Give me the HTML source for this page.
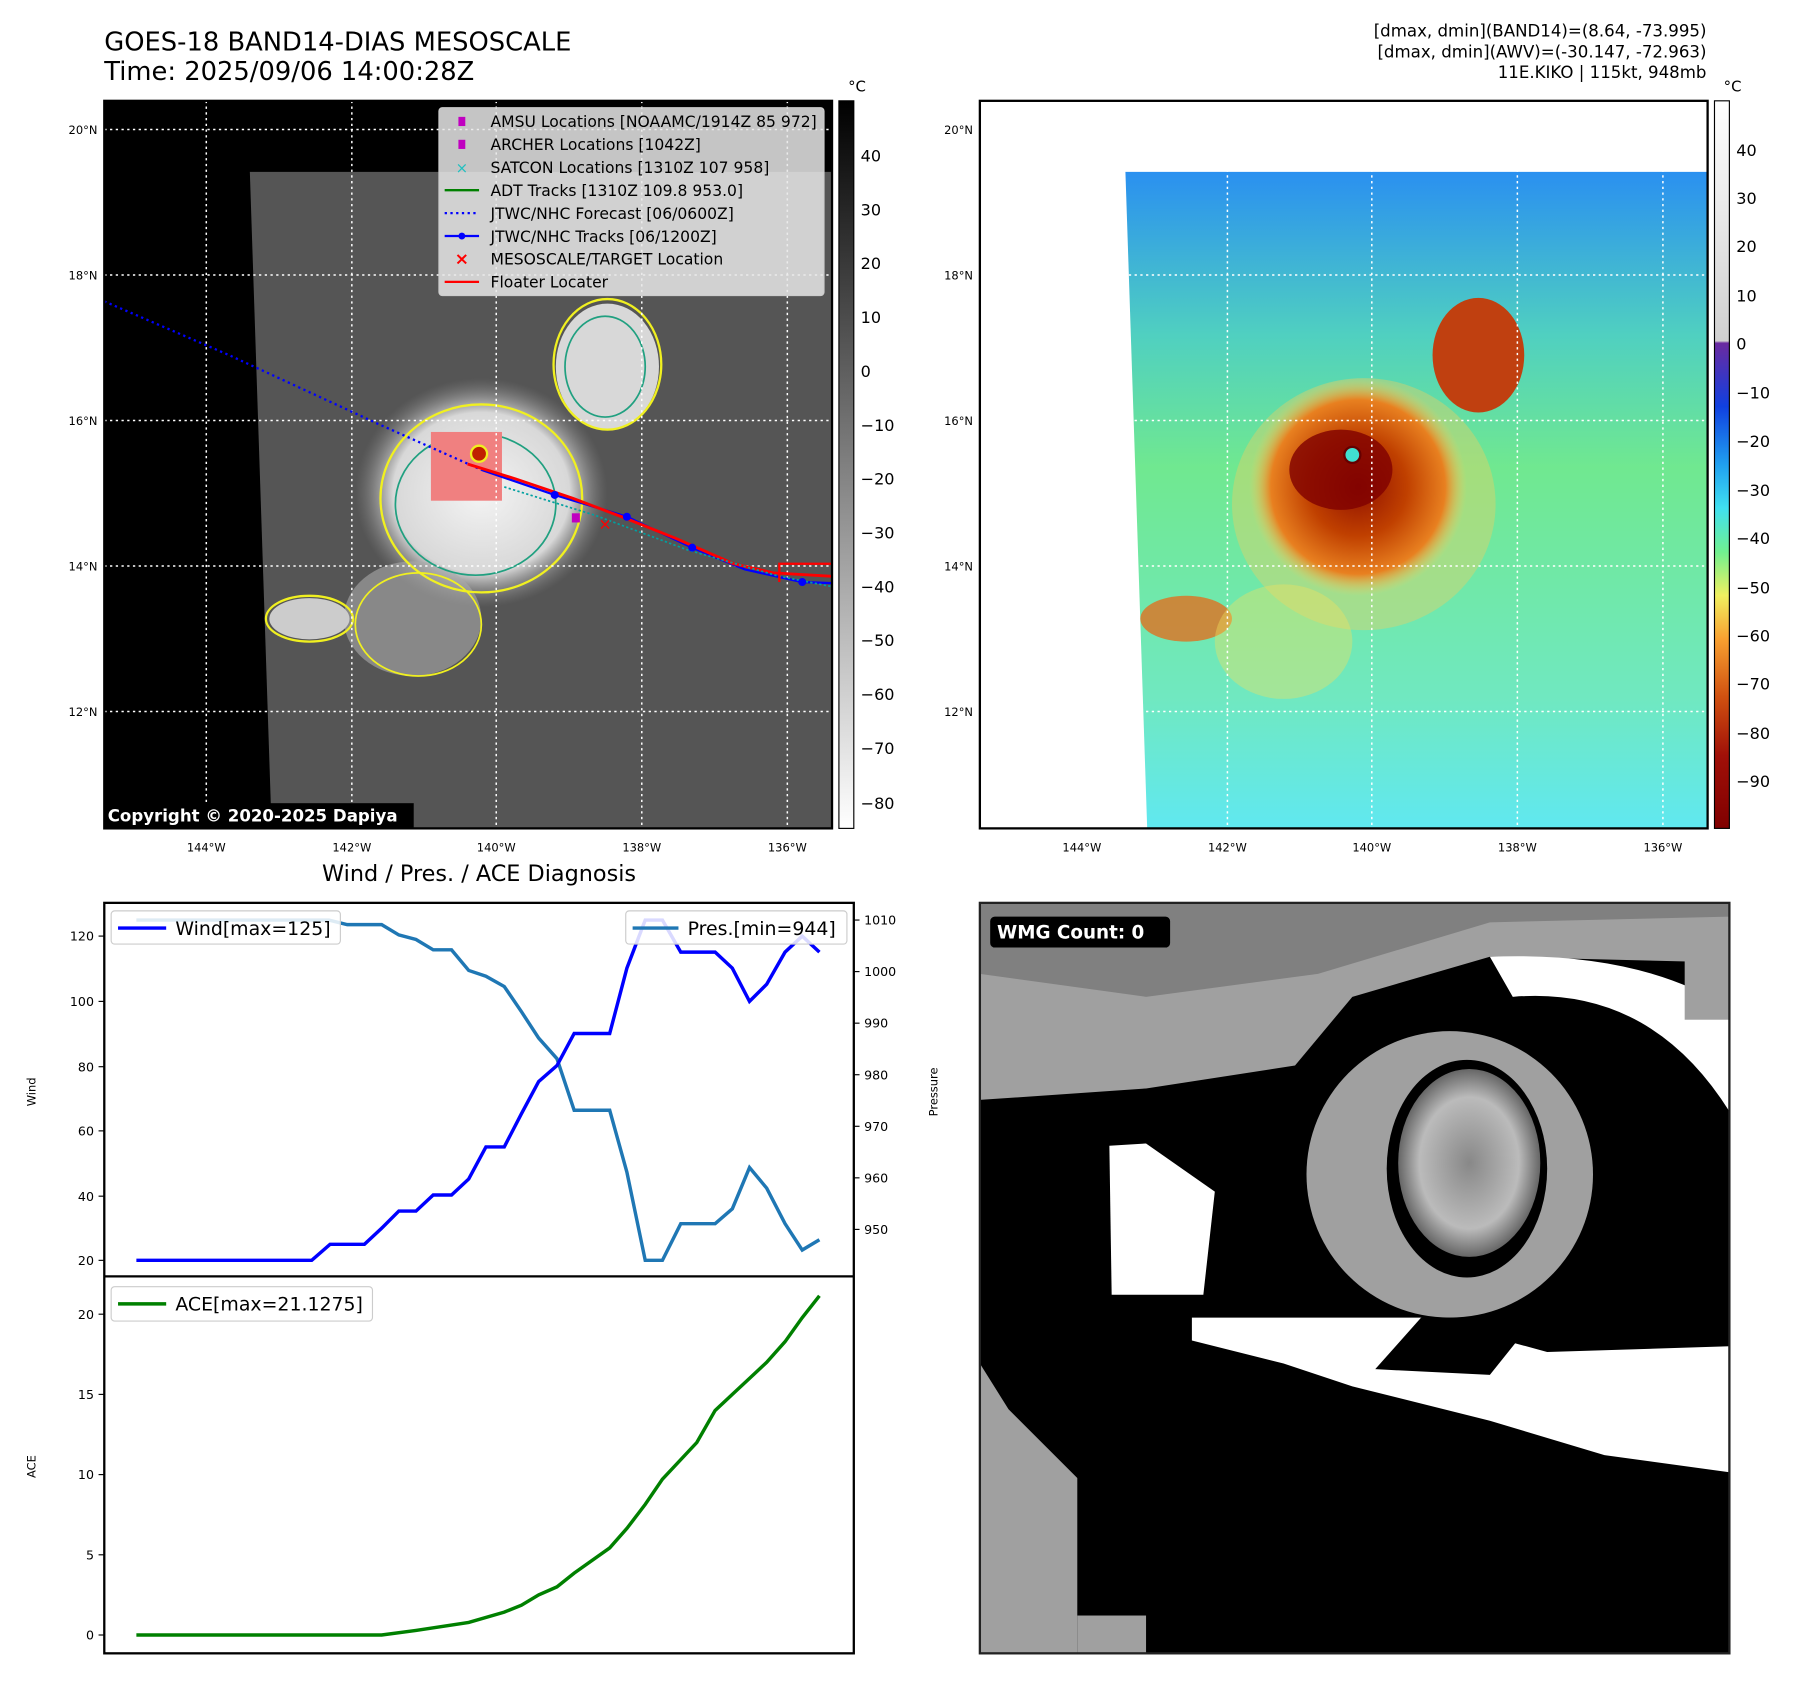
<!DOCTYPE html>
<html><head><meta charset="utf-8"><style>html,body{margin:0;padding:0;background:#fff}svg{display:block}text{font-family:"DejaVu Sans","Liberation Sans",sans-serif}</style></head><body>
<svg width="1797" height="1690" viewBox="0 0 1568 1475" preserveAspectRatio="none" xmlns="http://www.w3.org/2000/svg">
<defs>
<linearGradient id="gcb" x1="0" y1="0" x2="0" y2="1"><stop offset="0" stop-color="#000"/><stop offset="1" stop-color="#fff"/></linearGradient>
<linearGradient id="ccb" x1="0" y1="0" x2="0" y2="1">
<stop offset="0" stop-color="#fff"/><stop offset="0.33" stop-color="#d0d0d0"/><stop offset="0.333" stop-color="#6a2aa0"/>
<stop offset="0.42" stop-color="#1040e0"/><stop offset="0.5" stop-color="#20a0f0"/><stop offset="0.56" stop-color="#40e0f0"/>
<stop offset="0.62" stop-color="#70f090"/><stop offset="0.68" stop-color="#f0f060"/><stop offset="0.74" stop-color="#f8a030"/>
<stop offset="0.82" stop-color="#d05010"/><stop offset="0.9" stop-color="#a01008"/><stop offset="1" stop-color="#800000"/></linearGradient>
<linearGradient id="swR" x1="0" y1="0" x2="0" y2="1"><stop offset="0" stop-color="#2a90f0"/><stop offset="0.25" stop-color="#50d0c0"/><stop offset="0.45" stop-color="#70e890"/><stop offset="0.8" stop-color="#70e8c0"/><stop offset="1" stop-color="#60e8f0"/></linearGradient>
<radialGradient id="stR"><stop offset="0" stop-color="#901000"/><stop offset="0.45" stop-color="#c04000"/><stop offset="0.8" stop-color="#e88020"/><stop offset="1" stop-color="#f0d060" stop-opacity="0"/></radialGradient>
<radialGradient id="stL"><stop offset="0" stop-color="#f4f4f4"/><stop offset="0.7" stop-color="#d8d8d8"/><stop offset="1" stop-color="#888" stop-opacity="0"/></radialGradient>
<radialGradient id="eyeW"><stop offset="0" stop-color="#888"/><stop offset="0.7" stop-color="#bbb"/><stop offset="1" stop-color="#666"/></radialGradient>
</defs>
<text x="91" y="44" font-size="22.5">GOES-18 BAND14-DIAS MESOSCALE</text>
<text x="91" y="70" font-size="22.5">Time: 2025/09/06 14:00:28Z</text>
<g font-size="14.5" text-anchor="end"><text x="1489" y="32">[dmax, dmin](BAND14)=(8.64, -73.995)</text><text x="1489" y="50">[dmax, dmin](AWV)=(-30.147, -72.963)</text><text x="1489" y="68">11E.KIKO | 115kt, 948mb</text></g>

<rect x="91" y="88" width="635" height="635" fill="#000"/>
<polygon points="218,150 726,150 726,723 237,723" fill="#555"/>
<ellipse cx="420" cy="430" rx="110" ry="100" fill="url(#stL)"/>
<ellipse cx="530" cy="320" rx="45" ry="55" fill="#d8d8d8"/>
<ellipse cx="360" cy="540" rx="60" ry="50" fill="#aaa" opacity="0.6"/>
<ellipse cx="270" cy="540" rx="35" ry="18" fill="#ccc"/>
<ellipse cx="420" cy="435" rx="88" ry="82" fill="none" stroke="#f0f020" stroke-width="2"/>
<ellipse cx="415" cy="440" rx="70" ry="62" fill="none" stroke="#20a080" stroke-width="1.5"/>
<ellipse cx="530" cy="318" rx="47" ry="57" fill="none" stroke="#f0f020" stroke-width="2"/>
<ellipse cx="528" cy="320" rx="35" ry="44" fill="none" stroke="#20a080" stroke-width="1.5"/>
<ellipse cx="270" cy="540" rx="38" ry="20" fill="none" stroke="#f0f020" stroke-width="2"/>
<ellipse cx="365" cy="545" rx="55" ry="45" fill="none" stroke="#f0f020" stroke-width="1.5"/>
<rect x="376" y="377" width="62" height="60" fill="#f08080"/>
<circle cx="418" cy="396" r="7" fill="#c02000" stroke="#f0f020" stroke-width="2"/>
<g stroke="#fff" stroke-dasharray="2,3" stroke-width="1.3">
<line x1="180" y1="88" x2="180" y2="723"/><line x1="307" y1="88" x2="307" y2="723"/><line x1="433" y1="88" x2="433" y2="723"/><line x1="560" y1="88" x2="560" y2="723"/><line x1="687" y1="88" x2="687" y2="723"/>
<line x1="91" y1="113" x2="726" y2="113"/><line x1="91" y1="240" x2="726" y2="240"/><line x1="91" y1="367" x2="726" y2="367"/><line x1="91" y1="494" x2="726" y2="494"/><line x1="91" y1="621" x2="726" y2="621"/></g>
<polyline points="91,263 200,310 330,370 420,410" fill="none" stroke="#0000ff" stroke-width="2" stroke-dasharray="2,3"/>
<polyline points="420,410 484,432 547,451 604,478 650,497 700,508 726,509" fill="none" stroke="#0000ff" stroke-width="2"/>
<polyline points="408,405 450,418 500,435 545,452 590,470 640,492 675,500 726,503" fill="none" stroke="#ff0000" stroke-width="2.5"/>
<polyline points="440,425 520,450 600,480 680,503 726,512" fill="none" stroke="#00a0a0" stroke-width="1.5" stroke-dasharray="2,2"/>
<g fill="#0000ff"><circle cx="484" cy="432" r="3.5"/><circle cx="547" cy="451" r="3.5"/><circle cx="604" cy="478" r="3.5"/><circle cx="700" cy="508" r="3.5"/></g>
<rect x="499" y="448" width="7" height="8" fill="#c000c0"/>
<text x="528" y="462" fill="#ff0000" font-size="14" text-anchor="middle">×</text>
<polyline points="680,508 680,492 726,492" fill="none" stroke="#ff0000" stroke-width="2"/>
<rect x="91" y="88" width="635" height="635" fill="none" stroke="#000" stroke-width="2"/>
<rect x="383" y="94" width="336" height="164" rx="3" fill="#e8e8e8" fill-opacity="0.85" stroke="#ccc"/>
<g font-size="13.6">
<rect x="400" y="102" width="6" height="8" fill="#c000c0"/><text x="428" y="111">AMSU Locations [NOAAMC/1914Z 85 972]</text>
<rect x="400" y="122" width="6" height="8" fill="#c000c0"/><text x="428" y="131">ARCHER Locations [1042Z]</text>
<text x="403" y="151" fill="#20c0c0" font-size="13" text-anchor="middle">×</text><text x="428" y="151">SATCON Locations [1310Z 107 958]</text>
<line x1="388" y1="166" x2="418" y2="166" stroke="#008000" stroke-width="2"/><text x="428" y="171">ADT Tracks [1310Z 109.8 953.0]</text>
<line x1="388" y1="186" x2="418" y2="186" stroke="#0000ff" stroke-width="2" stroke-dasharray="2,3"/><text x="428" y="191">JTWC/NHC Forecast [06/0600Z]</text>
<line x1="388" y1="206" x2="418" y2="206" stroke="#0000ff" stroke-width="2"/><circle cx="403" cy="206" r="3" fill="#0000ff"/><text x="428" y="211">JTWC/NHC Tracks [06/1200Z]</text>
<text x="403" y="231" fill="#ff0000" font-size="15" font-weight="bold" text-anchor="middle">×</text><text x="428" y="231">MESOSCALE/TARGET Location</text>
<line x1="388" y1="246" x2="418" y2="246" stroke="#ff0000" stroke-width="2"/><text x="428" y="251">Floater Locater</text></g>
<rect x="91" y="701" width="270" height="22" fill="#000"/>
<text x="94" y="717" fill="#fff" font-size="14.5" font-weight="bold">Copyright © 2020-2025 Dapiya</text>
<g font-size="10" text-anchor="end"><text x="85" y="117">20°N</text><text x="85" y="244">18°N</text><text x="85" y="371">16°N</text><text x="85" y="498">14°N</text><text x="85" y="625">12°N</text>
<text x="849" y="117">20°N</text><text x="849" y="244">18°N</text><text x="849" y="371">16°N</text><text x="849" y="498">14°N</text><text x="849" y="625">12°N</text></g>
<g font-size="10" text-anchor="middle"><text x="180" y="743">144°W</text><text x="307" y="743">142°W</text><text x="433" y="743">140°W</text><text x="560" y="743">138°W</text><text x="687" y="743">136°W</text>
<text x="944" y="743">144°W</text><text x="1071" y="743">142°W</text><text x="1197" y="743">140°W</text><text x="1324" y="743">138°W</text><text x="1451" y="743">136°W</text></g>
<rect x="732" y="88" width="13" height="635" fill="url(#gcb)" stroke="#000"/>
<text x="740" y="80" font-size="13">°C</text>
<g font-size="14"><text x="751" y="141">40</text><text x="751" y="188">30</text><text x="751" y="235">20</text><text x="751" y="282">10</text><text x="751" y="329">0</text><text x="751" y="376">−10</text><text x="751" y="423">−20</text><text x="751" y="470">−30</text><text x="751" y="517">−40</text><text x="751" y="564">−50</text><text x="751" y="611">−60</text><text x="751" y="658">−70</text><text x="751" y="706">−80</text></g>

<polygon points="982,150 1490,150 1490,723 1001,723" fill="url(#swR)"/>
<ellipse cx="1190" cy="440" rx="115" ry="110" fill="#f0d060" opacity="0.4"/>
<circle cx="1185" cy="425" r="95" fill="url(#stR)"/>
<ellipse cx="1170" cy="410" rx="45" ry="35" fill="#800000" opacity="0.8"/>
<circle cx="1180" cy="397" r="7" fill="#40e0d0" stroke="#600" stroke-width="2"/>
<ellipse cx="1290" cy="310" rx="40" ry="50" fill="#c04010"/>
<ellipse cx="1035" cy="540" rx="40" ry="20" fill="#e07020" opacity="0.8"/>
<ellipse cx="1120" cy="560" rx="60" ry="50" fill="#f0e060" opacity="0.4"/>
<g stroke="#fff" stroke-dasharray="2,3" stroke-width="1.3">
<line x1="944" y1="88" x2="944" y2="723"/><line x1="1071" y1="88" x2="1071" y2="723"/><line x1="1197" y1="88" x2="1197" y2="723"/><line x1="1324" y1="88" x2="1324" y2="723"/><line x1="1451" y1="88" x2="1451" y2="723"/>
<line x1="855" y1="113" x2="1490" y2="113"/><line x1="855" y1="240" x2="1490" y2="240"/><line x1="855" y1="367" x2="1490" y2="367"/><line x1="855" y1="494" x2="1490" y2="494"/><line x1="855" y1="621" x2="1490" y2="621"/></g>
<rect x="855" y="88" width="635" height="635" fill="none" stroke="#000" stroke-width="2"/>
<rect x="1496" y="88" width="13" height="635" fill="url(#ccb)" stroke="#000"/>
<text x="1504" y="80" font-size="13">°C</text>
<g font-size="14"><text x="1515" y="136">40</text><text x="1515" y="178">30</text><text x="1515" y="220">20</text><text x="1515" y="263">10</text><text x="1515" y="305">0</text><text x="1515" y="348">−10</text><text x="1515" y="390">−20</text><text x="1515" y="433">−30</text><text x="1515" y="475">−40</text><text x="1515" y="518">−50</text><text x="1515" y="560">−60</text><text x="1515" y="602">−70</text><text x="1515" y="645">−80</text><text x="1515" y="687">−90</text></g>

<text x="418" y="769" font-size="19.5" text-anchor="middle">Wind / Pres. / ACE Diagnosis</text>
<rect x="91" y="788" width="654" height="655" fill="none" stroke="#000" stroke-width="2"/>
<line x1="91" y1="1114" x2="745" y2="1114" stroke="#000" stroke-width="2"/>
<polyline fill="none" stroke="#1f77b4" stroke-width="3" points="119,803 287,803 303,807 333,807 348,816 363,820 378,829 394,829 409,847 424,852 440,861 455,883 470,906 486,924 501,969 532,969 547,1023 563,1100 578,1100 594,1068 624,1068 639,1055 654,1019 669,1037 685,1068 700,1091 715,1082"/>
<polyline fill="none" stroke="#0000ff" stroke-width="3" points="119,1100 272,1100 288,1086 318,1086 333,1072 348,1057 363,1057 378,1043 394,1043 409,1029 424,1001 440,1001 455,972 470,944 486,930 501,902 532,902 547,845 563,803 578,803 594,831 624,831 639,845 654,874 669,859 685,831 700,817 715,831"/>
<polyline fill="none" stroke="#008000" stroke-width="3" points="119,1427 333,1427 363,1423 409,1416 440,1407 455,1401 470,1392 486,1385 501,1373 532,1351 547,1334 563,1313 578,1291 608,1259 624,1231 639,1217 654,1203 669,1189 685,1171 700,1150 715,1131"/>
<rect x="97" y="795" width="200" height="29" rx="3" fill="#fff" fill-opacity="0.85" stroke="#ccc"/>
<line x1="103" y1="810" x2="145" y2="810" stroke="#0000ff" stroke-width="3"/><text x="153" y="816" font-size="16.5">Wind[max=125]</text>
<rect x="546" y="795" width="193" height="29" rx="3" fill="#fff" fill-opacity="0.85" stroke="#ccc"/>
<line x1="552" y1="810" x2="592" y2="810" stroke="#1f77b4" stroke-width="3"/><text x="600" y="816" font-size="16.5">Pres.[min=944]</text>
<rect x="97" y="1123" width="228" height="30" rx="3" fill="#fff" fill-opacity="0.85" stroke="#ccc"/>
<line x1="103" y1="1138" x2="145" y2="1138" stroke="#008000" stroke-width="3"/><text x="153" y="1144" font-size="16.5">ACE[max=21.1275]</text>
<g font-size="11" text-anchor="end"><text x="82" y="821">120</text><text x="82" y="878">100</text><text x="82" y="935">80</text><text x="82" y="991">60</text><text x="82" y="1048">40</text><text x="82" y="1104">20</text>
<text x="82" y="1151">20</text><text x="82" y="1221">15</text><text x="82" y="1291">10</text><text x="82" y="1361">5</text><text x="82" y="1431">0</text></g>
<g stroke="#000"><line x1="86" y1="817" x2="91" y2="817"/><line x1="86" y1="874" x2="91" y2="874"/><line x1="86" y1="931" x2="91" y2="931"/><line x1="86" y1="987" x2="91" y2="987"/><line x1="86" y1="1044" x2="91" y2="1044"/><line x1="86" y1="1100" x2="91" y2="1100"/>
<line x1="86" y1="1147" x2="91" y2="1147"/><line x1="86" y1="1217" x2="91" y2="1217"/><line x1="86" y1="1287" x2="91" y2="1287"/><line x1="86" y1="1357" x2="91" y2="1357"/><line x1="86" y1="1427" x2="91" y2="1427"/>
<line x1="745" y1="803" x2="750" y2="803"/><line x1="745" y1="848" x2="750" y2="848"/><line x1="745" y1="893" x2="750" y2="893"/><line x1="745" y1="938" x2="750" y2="938"/><line x1="745" y1="983" x2="750" y2="983"/><line x1="745" y1="1028" x2="750" y2="1028"/><line x1="745" y1="1073" x2="750" y2="1073"/></g>
<g font-size="11"><text x="754" y="807">1010</text><text x="754" y="852">1000</text><text x="754" y="897">990</text><text x="754" y="942">980</text><text x="754" y="987">970</text><text x="754" y="1032">960</text><text x="754" y="1077">950</text></g>
<text transform="translate(31,953) rotate(-90)" font-size="10" text-anchor="middle">Wind</text>
<text transform="translate(31,1280) rotate(-90)" font-size="10" text-anchor="middle">ACE</text>
<text transform="translate(818,953) rotate(-90)" font-size="10" text-anchor="middle">Pressure</text>

<rect x="855" y="788" width="654" height="655" fill="#000"/>
<polygon points="855,788 1509,788 1509,840 1300,835 1180,870 1130,930 1000,950 855,960" fill="#a0a0a0"/>
<polygon points="855,788 1509,788 1509,800 1300,805 1150,850 1000,870 855,850" fill="#808080"/>
<path d="M1300,835 Q1430,830 1509,880 L1509,970 Q1440,860 1320,870 Z" fill="#fff"/>
<rect x="1470" y="820" width="39" height="70" fill="#a0a0a0"/>
<ellipse cx="1265" cy="1025" rx="125" ry="125" fill="#a0a0a0"/>
<ellipse cx="1280" cy="1020" rx="70" ry="95" fill="#000"/>
<ellipse cx="1282" cy="1015" rx="62" ry="82" fill="url(#eyeW)"/>
<path d="M968,1000 L1000,998 L1060,1040 L1050,1130 L970,1130 Z" fill="#fff"/>
<path d="M1040,1150 L1240,1150 L1350,1180 L1509,1175 L1509,1285 L1400,1270 L1300,1240 L1180,1210 L1120,1190 L1040,1170 Z" fill="#fff"/>
<polygon points="1240,1150 1340,1150 1300,1200 1200,1195" fill="#000"/>
<polygon points="855,1190 880,1230 940,1290 940,1443 855,1443" fill="#a0a0a0"/>
<rect x="940" y="1410" width="60" height="33" fill="#a0a0a0"/>
<rect x="855" y="788" width="654" height="655" fill="none" stroke="#222" stroke-width="2"/>
<rect x="864" y="800" width="157" height="27" rx="4" fill="#000"/>
<text x="870" y="819" fill="#fff" font-size="16" font-weight="bold">WMG Count: 0</text>
</svg>
</body></html>
